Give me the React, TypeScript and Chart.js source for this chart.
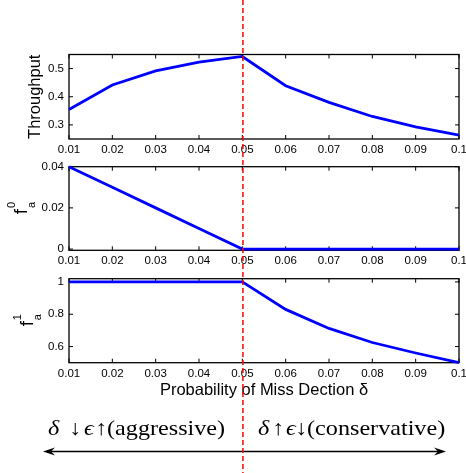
import React, { useEffect, useRef } from 'react';
import { Chart, registerables } from 'chart.js';

Chart.register(...registerables);

// ---------- data ----------
const deltas = [0.01, 0.02, 0.03, 0.04, 0.05, 0.06, 0.07, 0.08, 0.09, 0.1];
const throughput = [0.355, 0.442, 0.492, 0.523, 0.543, 0.439, 0.38, 0.33, 0.293, 0.264];
const fa0 = [0.04, 0.03, 0.02, 0.01, 0, 0, 0, 0, 0, 0];
const fa1 = [1, 1, 1, 1, 1, 0.83, 0.712, 0.625, 0.56, 0.5];

const xTicks = [0.01, 0.02, 0.03, 0.04, 0.05, 0.06, 0.07, 0.08, 0.09, 0.1];
const throughputTicks = [0.3, 0.4, 0.5];
const fa0Ticks = [0, 0.02, 0.04];
const fa1Ticks = [0.6, 0.8, 1];

const threshold = 0.05;
const xTitle = 'Probability of Miss Dection δ';
const leftNote = ['δ', '↓', 'ϵ', '↑(aggressive)'];
const rightNote = ['δ', '↑', 'ϵ', '↓(conservative)'];

// ---------- style ----------
const SANS = '"Liberation Sans", Arial, Helvetica, sans-serif';
const SERIF = '"Liberation Serif", "Times New Roman", "DejaVu Serif", serif';
const W = 466;
const H = 473;
const Y_AXIS_W = 69;
const RIGHT_PAD = 7;
const TICK_FONT = { family: SANS, size: 11.5 };
const TITLE_FONT = { family: SANS, size: 16.5, lineHeight: 1.2 };

const fmt = (v: number) => String(Number(Number(v).toFixed(3)));

const boxPlugin = {
  id: 'matlabBox',
  beforeDatasetsDraw(chart: any) {
    const { ctx, chartArea: a, scales } = chart;
    ctx.save();
    ctx.strokeStyle = '#000';
    ctx.lineWidth = 1.3;
    ctx.strokeRect(a.left, a.top, a.right - a.left, a.bottom - a.top);
    const tl = 4;
    ctx.lineWidth = 1;
    ctx.beginPath();
    scales.x.ticks.forEach((t: any) => {
      const px = scales.x.getPixelForValue(t.value);
      ctx.moveTo(px, a.bottom);
      ctx.lineTo(px, a.bottom - tl);
      ctx.moveTo(px, a.top);
      ctx.lineTo(px, a.top + tl);
    });
    scales.y.ticks.forEach((t: any) => {
      const py = scales.y.getPixelForValue(t.value);
      ctx.moveTo(a.left, py);
      ctx.lineTo(a.left + tl, py);
      ctx.moveTo(a.right, py);
      ctx.lineTo(a.right - tl, py);
    });
    ctx.stroke();
    ctx.restore();
  },
};

const mathLabelPlugin = (sup: string, sub: string, baseX: number) => ({
  id: 'mathLabel',
  afterDraw(chart: any) {
    const { ctx, chartArea: a } = chart;
    const cy = (a.top + a.bottom) / 2;
    ctx.save();
    ctx.translate(baseX, cy);
    ctx.rotate(-Math.PI / 2);
    ctx.fillStyle = '#000';
    ctx.textBaseline = 'alphabetic';
    ctx.textAlign = 'center';
    ctx.font = `19px ${SANS}`;
    ctx.fillText('f', -3, 0);
    ctx.font = `11px ${SANS}`;
    ctx.fillText(sup, 3.5, -12.5);
    ctx.fillText(sub, 3.5, 7.5);
    ctx.restore();
  },
});

interface PanelSpec {
  values: number[];
  yMin: number;
  yMax: number;
  yTicks: number[];
  padTop: number;
  xHeight: number;
  yTitle?: string;
  xTitle?: string;
  xTitlePadBottom?: number;
  extra?: any[];
}

function makePanel(canvas: HTMLCanvasElement, spec: PanelSpec) {
  return new Chart(canvas, {
    type: 'line',
    data: {
      datasets: [
        {
          data: deltas.map((x, i) => ({ x, y: spec.values[i] })),
          borderColor: '#0000ff',
          borderWidth: 2.8,
          pointRadius: 0,
          tension: 0,
          clip: 6,
        } as any,
      ],
    },
    options: {
      animation: false,
      responsive: false,
      maintainAspectRatio: false,
      devicePixelRatio: 1,
      events: [],
      layout: { padding: { left: 0, right: RIGHT_PAD, top: spec.padTop, bottom: 0 } },
      plugins: { legend: { display: false }, tooltip: { enabled: false } },
      scales: {
        x: {
          type: 'linear',
          min: deltas[0],
          max: deltas[deltas.length - 1],
          bounds: 'data',
          grid: { display: false, drawTicks: false },
          border: { display: false },
          ticks: {
            font: TICK_FONT,
            color: '#000',
            padding: 4,
            maxRotation: 0,
            minRotation: 0,
            autoSkip: false,
            callback: (v: any) => fmt(v),
          },
          title: spec.xTitle
            ? {
                display: true,
                text: spec.xTitle,
                font: TITLE_FONT,
                color: '#000',
                padding: { top: 0, bottom: spec.xTitlePadBottom || 0 },
              }
            : { display: false },
          afterBuildTicks: (s: any) => {
            s.ticks = xTicks.map((value) => ({ value }));
          },
          afterFit: (s: any) => {
            s.height = spec.xHeight;
            s.paddingLeft = 0;
            s.paddingRight = 0;
          },
        } as any,
        y: {
          type: 'linear',
          min: spec.yMin,
          max: spec.yMax,
          bounds: 'data',
          grid: { display: false, drawTicks: false },
          border: { display: false },
          ticks: {
            font: TICK_FONT,
            color: '#000',
            padding: 5,
            autoSkip: false,
            callback: (v: any) => fmt(v),
          },
          title: spec.yTitle
            ? {
                display: true,
                text: spec.yTitle,
                font: TITLE_FONT,
                color: '#000',
                padding: { top: 26, bottom: 0 },
              }
            : { display: false },
          afterBuildTicks: (s: any) => {
            s.ticks = spec.yTicks.map((value) => ({ value }));
          },
          afterFit: (s: any) => {
            s.width = Y_AXIS_W;
            s.paddingTop = 0;
            s.paddingBottom = 0;
          },
        } as any,
      },
    },
    plugins: [boxPlugin, ...(spec.extra || [])],
  });
}

function drawOverlay(canvas: HTMLCanvasElement, ref: Chart) {
  const ctx = canvas.getContext('2d')!;
  ctx.clearRect(0, 0, W, H);
  const px = (ref.scales as any).x.getPixelForValue(threshold) + 0.6;

  // notes
  ctx.fillStyle = '#000';
  ctx.textBaseline = 'middle';
  ctx.textAlign = 'left';
  const noteY = 429;
  const stretch = 1.15;
  const leftPos = [48, 69, 84, 95];
  const rightPos = [258, 272, 286, 295];
  const drawNote = (tokens: string[], pos: number[]) => {
    tokens.forEach((t, i) => {
      const italic = t === 'δ' || t === 'ϵ';
      ctx.save();
      ctx.translate(pos[i], noteY);
      ctx.scale(stretch, 1);
      ctx.font = `${italic ? 'italic ' : ''}21px ${SERIF}`;
      ctx.fillText(t, 0, 0);
      ctx.restore();
    });
  };
  drawNote(leftNote, leftPos);
  drawNote(rightNote, rightPos);

  // double arrow
  const ay = 451.5;
  const x0 = 43;
  const x1 = 446;
  ctx.strokeStyle = '#000';
  ctx.lineWidth = 1.5;
  ctx.beginPath();
  ctx.moveTo(x0 + 4, ay);
  ctx.lineTo(x1 - 4, ay);
  ctx.stroke();
  ctx.beginPath();
  ctx.moveTo(x0, ay);
  ctx.lineTo(x0 + 12, ay - 4);
  ctx.lineTo(x0 + 8, ay);
  ctx.lineTo(x0 + 12, ay + 4);
  ctx.closePath();
  ctx.fill();
  ctx.beginPath();
  ctx.moveTo(x1, ay);
  ctx.lineTo(x1 - 12, ay - 4);
  ctx.lineTo(x1 - 8, ay);
  ctx.lineTo(x1 - 12, ay + 4);
  ctx.closePath();
  ctx.fill();

  // threshold line
  ctx.strokeStyle = '#ff0000';
  ctx.lineWidth = 1.5;
  ctx.setLineDash([5, 3]);
  ctx.beginPath();
  ctx.moveTo(px, 0);
  ctx.lineTo(px, H);
  ctx.stroke();
  ctx.setLineDash([]);
}

export default function App() {
  const c1 = useRef<HTMLCanvasElement>(null);
  const c2 = useRef<HTMLCanvasElement>(null);
  const c3 = useRef<HTMLCanvasElement>(null);
  const ov = useRef<HTMLCanvasElement>(null);

  useEffect(() => {
    const charts = [
      makePanel(c1.current!, {
        values: throughput,
        yMin: 0.25,
        yMax: 0.55,
        yTicks: throughputTicks,
        padTop: 54.5,
        xHeight: 21,
        yTitle: 'Throughput',
      }),
      makePanel(c2.current!, {
        values: fa0,
        yMin: -0.0006,
        yMax: 0.04,
        yTicks: fa0Ticks,
        padTop: 6.7,
        xHeight: 19.7,
        extra: [mathLabelPlugin('0', 'a', 27)],
      }),
      makePanel(c3.current!, {
        values: fa1,
        yMin: 0.5,
        yMax: 1.02,
        yTicks: fa1Ticks,
        padTop: 8.7,
        xHeight: 110.3,
        xTitle: xTitle,
        xTitlePadBottom: 73.1,
        extra: [mathLabelPlugin('1', 'a', 33)],
      }),
    ];
    drawOverlay(ov.current!, charts[2]);
    return () => charts.forEach((c) => c.destroy());
  }, []);

  const abs = (top: number): React.CSSProperties => ({ position: 'absolute', left: 0, top });

  return (
    <div
      style={{
        position: 'absolute',
        left: 0,
        top: 0,
        width: W,
        height: H,
        background: '#fff',
        overflow: 'hidden',
      }}
    >
      <canvas ref={c1} width={W} height={160} style={abs(0)} />
      <canvas ref={c2} width={W} height={110} style={abs(160)} />
      <canvas ref={c3} width={W} height={203} style={abs(270)} />
      <canvas ref={ov} width={W} height={H} style={{ ...abs(0), pointerEvents: 'none' }} />
    </div>
  );
}
